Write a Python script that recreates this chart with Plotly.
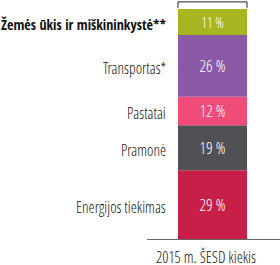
import plotly.graph_objects as go
import numpy as np

categories = ["Energijos tiekimas", "Pramonė", "Pastatai", "Transportas*", "Žemės ūkis ir miškininkystė**"]
values = [29, 19, 12, 26, 11]
colors = ["#c81f48", "#505055", "#ef4c79", "#8a5aa7", "#a7b520"]
bold = [False, False, False, False, True]
x_label = "2015 m. ŠESD kiekis"

FONT = "Open Sans Condensed Light, DejaVu Sans Condensed, sans-serif"
FONT_B = "Open Sans Condensed, DejaVu Sans Condensed, sans-serif"
bar_w = 1.0

fig = go.Figure()
bases = np.concatenate([[0], np.cumsum(values)[:-1]])
for cat, v, c, b in zip(categories, values, colors, bases):
    fig.add_trace(go.Bar(
        x=[0], y=[v], base=[b], width=bar_w, name=cat,
        marker=dict(color=c, line=dict(width=0)),
        text=[f"{v} %"], textposition="inside", insidetextanchor="middle",
        textfont=dict(color="white", size=16.5, family=FONT, weight=300),
        showlegend=False, hoverinfo="skip"))

for cat, v, b, bo in zip(categories, values, bases, bold):
    fig.add_annotation(
        x=-bar_w / 2, y=b + v / 2, xref="x", yref="y",
        text=cat,
        xanchor="right", yanchor="middle", xshift=-10, yshift=-2,
        showarrow=False,
        font=dict(size=14 if bo else 15.5, color="#111111",
                  family=FONT_B if bo else FONT, weight=700 if bo else 300))

total = sum(values)
fig.add_shape(type="path", xref="x", yref="y",
              path=f"M {-bar_w/2} {total+0.5} L {-bar_w/2} 100 L {bar_w/2} 100 L {bar_w/2} {total+0.5}",
              line=dict(color="#222222", width=1))

fig.add_annotation(x=0.5, y=0, xref="paper", yref="paper", text=x_label,
                   xanchor="center", yanchor="middle", yshift=-18, xshift=-8,
                   showarrow=False, font=dict(size=15.5, color="#111111", family=FONT, weight=300))

fig.update_layout(
    width=280, height=265,
    margin=dict(l=147, r=0, t=0, b=26),
    paper_bgcolor="white", plot_bgcolor="white",
    barmode="overlay",
    xaxis=dict(range=[-0.949, 0.978], showticklabels=False, showgrid=False, zeroline=False,
               showline=True, linecolor="#666666", linewidth=1, ticks=""),
    yaxis=dict(range=[0, 100.8], visible=False),
)

fig.write_html("out.html")
